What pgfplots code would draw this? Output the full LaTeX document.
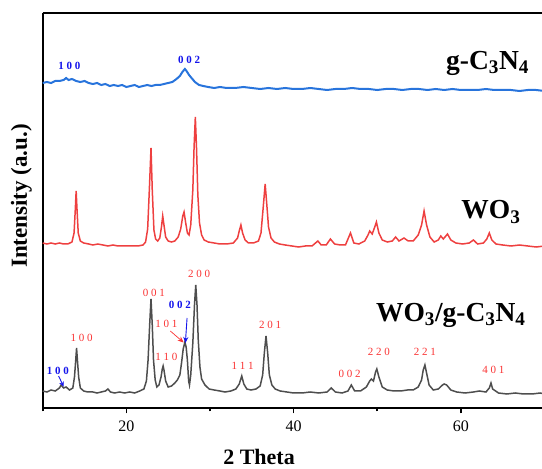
\documentclass[border=0pt]{standalone}
\usepackage{fontspec}
\setmainfont{Liberation Serif}
\usepackage{pgfplots}
\usepackage{pgfplotstable}
\pgfplotsset{compat=1.18}
\usetikzlibrary{arrows.meta}
\definecolor{cnBlue}{RGB}{40,116,220}
\definecolor{woRed}{RGB}{238,64,64}
\definecolor{mixGrey}{RGB}{78,78,78}
\definecolor{lblBlue}{RGB}{20,20,235}
\definecolor{lblRed}{RGB}{250,50,50}

% g-C3N4 (offset trace)
\pgfplotstableread{
x y
10.0 322
10.5 323
11.0 322
11.5 324
12.0 324
12.5 325
12.8 327
13.1 325
13.5 326
14.0 324
14.5 323
15.0 324
15.5 322
16.0 321
16.5 322
17.0 320
17.5 321
18.0 319
18.5 320
19.0 319
19.5 320
20.0 318
20.5 319
21.0 320
21.5 318
22.0 319
22.5 320
23.0 319
23.5 320
24.0 320
24.5 321
25.0 322
25.5 323
26.0 326
26.4 329
26.7 333
27.0 336
27.2 334
27.5 330
27.8 327
28.2 323
28.7 320
29.2 319
29.8 318
30.5 317
31.2 318
32.0 317
33.0 317
34.0 318
35.0 317
36.0 316
37.0 317
38.0 316
39.0 317
40.0 316
41.0 316
42.0 317
43.0 316
44.0 315
45.0 316
46.0 316
47.0 317
48.0 316
49.0 316
50.0 315
51.0 316
52.0 316
53.0 315
54.0 316
55.0 316
56.0 315
57.0 316
58.0 315
59.0 316
60.0 315
61.0 315
62.0 315
63.0 316
64.0 315
65.0 315
66.0 315
67.0 314
68.0 315
69.0 315
70.0 314
}\cnData

% WO3
\pgfplotstableread{
x y
10.0 162
10.5 161
11.0 162
11.5 161
12.0 162
12.5 161
13.0 161
13.5 163
13.75 172
13.9 196
14.0 214
14.1 196
14.25 172
14.5 164
14.9 162
15.5 161
16.0 160
16.6 161
17.2 160
17.8 159
18.4 160
19.0 159
19.6 159
20.2 159
20.8 159
21.4 159
22.0 160
22.3 163
22.55 176
22.75 215
22.95 257
23.1 215
23.3 175
23.5 166
23.75 164
24.0 167
24.2 178
24.35 189
24.5 180
24.7 168
25.0 164
25.4 163
25.8 164
26.2 168
26.5 176
26.75 189
26.9 193
27.1 182
27.3 172
27.5 170
27.7 180
27.95 215
28.1 258
28.25 288
28.4 255
28.55 210
28.75 182
29.0 170
29.3 165
29.8 163
30.5 162
31.2 161
32.0 161
32.8 162
33.3 167
33.5 174
33.7 180
33.9 172
34.2 165
34.6 162
35.2 162
35.8 164
36.1 172
36.35 196
36.6 221
36.8 200
37.0 178
37.3 167
37.7 163
38.3 161
39.0 160
39.8 159
40.6 158
41.4 159
42.2 159
42.9 164
43.3 160
43.9 160
44.4 166
44.9 161
45.6 160
46.2 160
46.8 172
47.2 162
47.8 161
48.5 164
48.9 170
49.1 174
49.4 171
49.7 178
49.9 183
50.2 172
50.6 165
51.2 163
51.8 164
52.2 168
52.6 164
53.2 167
53.7 164
54.3 164
54.9 170
55.3 180
55.6 194
55.9 180
56.3 168
56.8 163
57.3 165
57.6 169
57.9 166
58.4 171
58.8 165
59.4 162
60.2 161
61.0 162
61.5 165
62.0 161
62.7 162
63.1 166
63.4 172
63.7 165
64.2 161
65.0 160
66.0 159
67.0 160
68.0 159
69.0 158
70.0 159
}\woData

% WO3/g-C3N4
\pgfplotstableread{
x y
10.0 14
10.5 13
11.0 15
11.5 14
12.0 17
12.2 20
12.5 17
12.8 18
13.2 15
13.6 17
13.8 28
13.95 45
14.05 57
14.15 45
14.3 28
14.5 17
14.9 14
15.4 13
16.0 13
16.5 12
17.0 13
17.5 14
17.8 16
18.1 13
18.6 12
19.2 13
19.8 12
20.4 13
21.0 12
21.6 14
22.1 16
22.4 24
22.6 45
22.8 82
22.95 106
23.1 80
23.25 45
23.45 25
23.65 18
23.9 20
24.15 28
24.3 36
24.4 39
24.5 35
24.7 24
25.0 18
25.4 19
25.8 22
26.1 25
26.4 30
26.6 42
26.8 56
27.0 63
27.15 58
27.3 45
27.45 24
27.55 20
27.7 30
27.95 62
28.15 100
28.3 120
28.45 100
28.6 65
28.8 38
29.0 26
29.4 20
29.9 16
30.5 15
31.2 14
31.8 13
32.5 14
33.1 16
33.5 21
33.8 29
34.05 21
34.4 16
34.9 15
35.5 16
36.0 19
36.3 30
36.5 52
36.7 69
36.9 52
37.1 30
37.4 20
37.8 16
38.4 14
39.2 13
40.0 12
41.0 12
42.0 13
43.0 12
44.0 13
44.5 17
45.0 13
45.8 12
46.5 14
46.9 20
47.3 14
48.0 14
48.7 18
49.1 24
49.3 26
49.55 24
49.8 33
49.95 36
50.2 28
50.6 18
51.2 15
52.0 14
52.8 14
53.6 15
54.3 15
54.9 18
55.3 25
55.5 35
55.7 40
55.9 32
56.2 20
56.7 15
57.3 16
57.8 20
58.0 21
58.3 20
58.8 15
59.5 13
60.5 12
61.5 13
62.2 14
63.0 13
63.4 17
63.6 22
63.8 16
64.5 12
65.5 11
66.5 12
67.5 11
68.5 11
69.5 12
70.0 11
}\mixData

\newcommand{\sample}[1]{{\bfseries\fontsize{27.5}{30}\selectfont #1}}
\newcommand{\hkl}[1]{{\fontsize{11}{12}\selectfont #1}}

\begin{document}
\begin{tikzpicture}
\begin{axis}[
  scale only axis,
  width=499.3pt, height=395.2pt,
  at={(42.7pt,60.5pt)}, anchor=south west,
  xmin=10, xmax=69.7,
  ymin=-3.5, ymax=391.7,
  axis x line=box, axis y line=left,
  axis line style={-, line width=2pt},
  xtick={20,40,60},
  minor xtick={10,30,50,70},
  xtick pos=bottom,
  tick align=outside,
  major tick length=5pt,
  minor tick length=3pt,
  every tick/.style={black, line width=1.6pt},
  ytick=\empty,
  /pgf/number format/assume math mode=true,
  xticklabel style={font=\fontsize{16}{18}\selectfont, yshift=-4pt},
]
\addplot[cnBlue, line width=2pt] table[x=x,y=y] {\cnData};
\addplot[woRed, line width=1.5pt] table[x=x,y=y] {\woData};
\addplot[mixGrey, line width=1.5pt] table[x=x,y=y] {\mixData};

% sample names
\node at (axis cs:63.2,342) {\sample{g-C\textsubscript{3}N\textsubscript{4}}};
\node at (axis cs:63.6,193) {\sample{WO\textsubscript{3}}};
\node at (axis cs:58.8,90) {\sample{WO\textsubscript{3}/g-C\textsubscript{3}N\textsubscript{4}}};

% g-C3N4 reflections
\node[lblBlue] at (axis cs:13.2,339) {\hkl{\bfseries 1 0 0}};
\node[lblBlue] at (axis cs:27.5,345) {\hkl{\bfseries 0 0 2}};

% composite reflections
\node[lblBlue] at (axis cs:11.8,34) {\hkl{\bfseries 1 0 0}};
\node[lblRed] at (axis cs:14.65,67) {\hkl{1 0 0}};
\node[lblRed] at (axis cs:23.3,112) {\hkl{0 0 1}};
\node[lblRed] at (axis cs:24.8,48) {\hkl{1 1 0}};
\node[lblRed] at (axis cs:24.8,81) {\hkl{1 0 1}};
\node[lblBlue] at (axis cs:26.4,100) {\hkl{\bfseries 0 0 2}};
\node[lblRed] at (axis cs:28.7,131) {\hkl{2 0 0}};
\node[lblRed] at (axis cs:33.9,39) {\hkl{1 1 1}};
\node[lblRed] at (axis cs:37.2,80) {\hkl{2 0 1}};
\node[lblRed] at (axis cs:46.7,31) {\hkl{0 0 2}};
\node[lblRed] at (axis cs:50.2,53) {\hkl{2 2 0}};
\node[lblRed] at (axis cs:55.7,53) {\hkl{2 2 1}};
\node[lblRed] at (axis cs:63.9,35) {\hkl{4 0 1}};

\draw[lblBlue, line width=0.9pt, -{Stealth[length=5pt,width=5pt]}] (axis cs:11.9,29) -- (axis cs:12.5,18.5);
\draw[lblBlue, line width=0.9pt, -{Stealth[length=6pt,width=5pt]}] (axis cs:27.26,87) -- (axis cs:27.06,62);
\draw[lblRed, line width=0.7pt, -{Stealth[length=6pt,width=5pt]}] (axis cs:25.26,74) -- (axis cs:26.85,62.5);
\end{axis}

\node[rotate=90, font=\bfseries\fontsize{23}{26}\selectfont] at (21.5pt,273pt) {Intensity (a.u.)};
\node[font=\bfseries\fontsize{22}{26}\selectfont] at (259pt,12pt) {2 Theta};

\pgfresetboundingbox
\path[use as bounding box] (0,0) rectangle (542pt,469pt);
\end{tikzpicture}
\end{document}
